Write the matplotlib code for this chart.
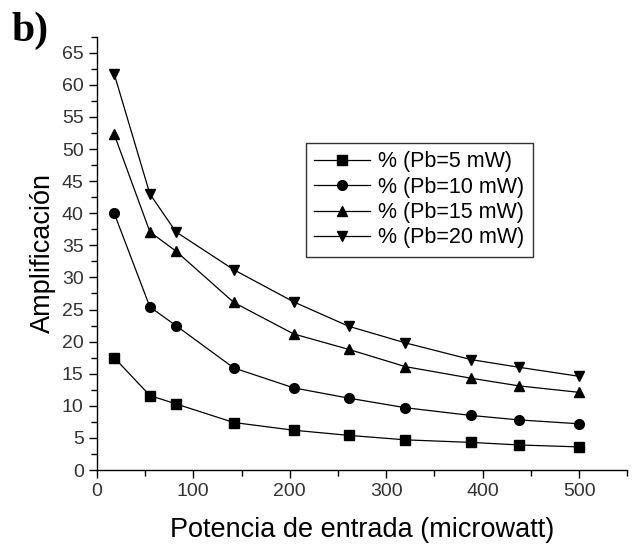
import matplotlib
matplotlib.use('Agg')
import matplotlib.pyplot as plt
from matplotlib.ticker import MultipleLocator

plt.rcParams['font.family'] = ['Liberation Sans', 'DejaVu Sans']

# datos
potencia = [18, 55, 82, 142, 204, 261, 320, 388, 438, 500]
amp_5 = [17.5, 11.6, 10.3, 7.4, 6.2, 5.4, 4.7, 4.3, 3.9, 3.6]
amp_10 = [40.0, 25.4, 22.5, 15.9, 12.8, 11.2, 9.7, 8.5, 7.8, 7.2]
amp_15 = [52.3, 37.1, 34.1, 26.1, 21.2, 18.8, 16.1, 14.3, 13.1, 12.1]
amp_20 = [61.7, 43.0, 37.1, 31.2, 26.2, 22.4, 19.8, 17.2, 16.0, 14.6]
etiquetas = ['% (Pb=5 mW)', '% (Pb=10 mW)', '% (Pb=15 mW)', '% (Pb=20 mW)']

fig = plt.figure(figsize=(6.33, 5.45), dpi=100)
ax = fig.add_axes([0.153, 0.1376, 0.838, 0.795])

series = [amp_5, amp_10, amp_15, amp_20]
marcadores = ['s', 'o', '^', 'v']
for y, m, lab in zip(series, marcadores, etiquetas):
    ax.plot(potencia, y, color='black', linewidth=0.9, marker=m, markersize=7,
            markerfacecolor='black', markeredgecolor='black', label=lab)

ax.set_xlim(0, 550)
ax.set_ylim(0, 67.5)
ax.xaxis.set_major_locator(MultipleLocator(100))
ax.xaxis.set_minor_locator(MultipleLocator(50))
ax.yaxis.set_major_locator(MultipleLocator(5))
ax.yaxis.set_minor_locator(MultipleLocator(2.5))

ax.spines['top'].set_visible(False)
ax.spines['right'].set_visible(False)
for s in ['left', 'bottom']:
    ax.spines[s].set_linewidth(1.0)
ax.tick_params(which='major', direction='out', length=6, width=1, labelsize=14,
               labelcolor='#333333')
ax.tick_params(which='minor', direction='out', length=4, width=1)

ax.set_xlabel('Potencia de entrada (microwatt)', fontsize=19.5, labelpad=12)
ax.set_ylabel('Amplificación', fontsize=19.5, labelpad=4)

leg = ax.legend(loc='upper left', bbox_to_anchor=(0.394, 0.755), fontsize=15.5,
                frameon=True, fancybox=False, edgecolor='black',
                handlelength=2.6, handletextpad=0.35, labelspacing=0.2,
                borderpad=0.4, borderaxespad=0)
leg.get_frame().set_linewidth(1.0)

fig.text(0.018, 0.925, 'b)', fontsize=30, fontweight='bold',
         family='Liberation Serif')

fig.savefig('out.png', dpi=100)
